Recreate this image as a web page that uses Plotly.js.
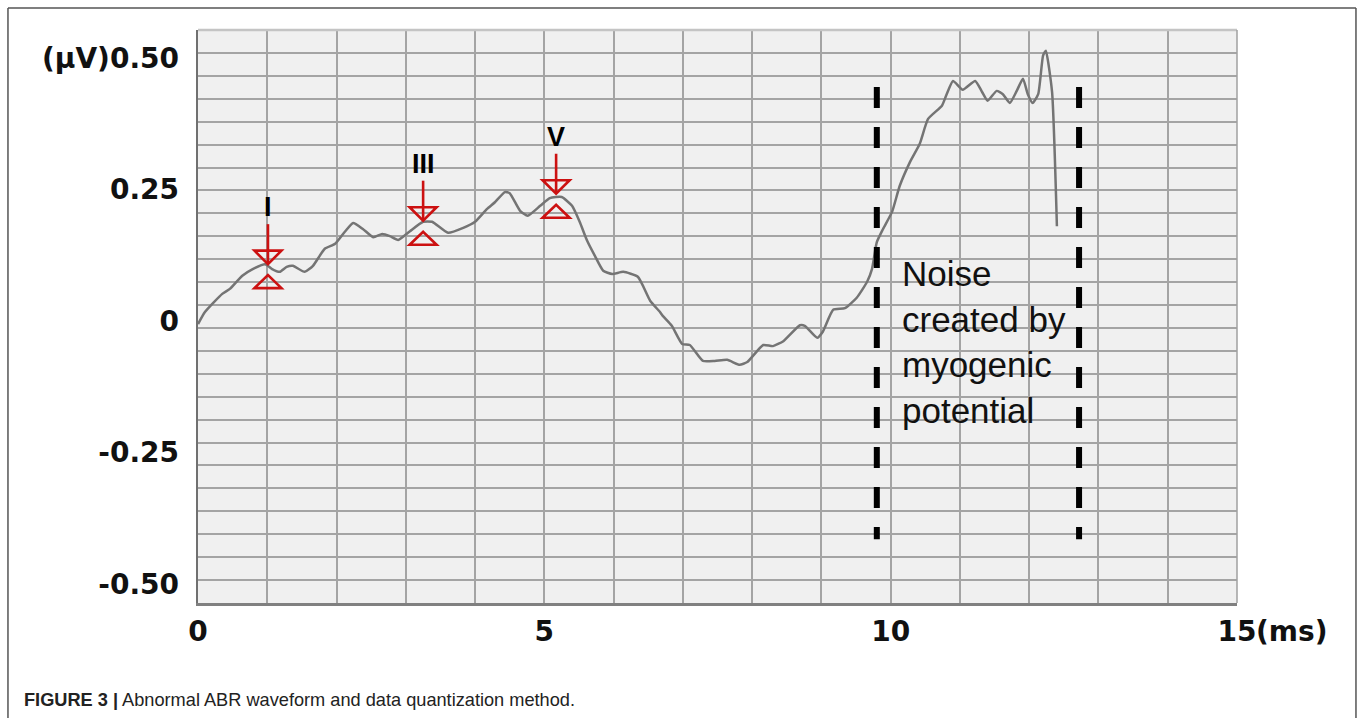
<!DOCTYPE html>
<html>
<head>
<meta charset="utf-8">
<script src="https://cdn.plot.ly/plotly-3.0.1.min.js"></script>
<style>
  html, body { margin: 0; padding: 0; background: #ffffff; }
  #chart { width: 1358px; height: 718px; }
</style>
</head>
<body>
<div id="chart"></div>
<script>
// ---- Data ----
const timeMs = [0, 0.10, 0.35, 0.46, 0.64, 0.79, 0.97, 1.07, 1.18, 1.28,
  1.37, 1.54, 1.66, 1.83, 1.98, 2.12, 2.24, 2.38, 2.53, 2.66,
  2.77, 2.89, 3.06, 3.25, 3.38, 3.61, 3.83, 4.00, 4.17, 4.29,
  4.43, 4.50, 4.65, 4.76, 4.94, 5.08, 5.25, 5.40, 5.51, 5.62,
  5.73, 5.85, 5.98, 6.14, 6.35, 6.53, 6.67, 6.71, 6.84, 6.99,
  7.10, 7.29, 7.46, 7.64, 7.82, 7.93, 8.16, 8.30, 8.45, 8.69,
  8.76, 8.94, 9.02, 9.17, 9.34, 9.51, 9.66, 9.73, 9.80, 9.89,
  10.02, 10.13, 10.28, 10.42, 10.54, 10.74, 10.80, 10.90, 11.04, 11.22,
  11.32, 11.40, 11.53, 11.62, 11.72, 11.82, 11.91, 11.98, 12.05, 12.13,
  12.20, 12.24, 12.33, 12.40];
const amplitudeUV = [0.007, 0.029, 0.062, 0.071, 0.095, 0.107, 0.116, 0.107, 0.102, 0.111,
  0.113, 0.102, 0.113, 0.144, 0.153, 0.175, 0.191, 0.180, 0.165, 0.171,
  0.167, 0.160, 0.176, 0.193, 0.193, 0.173, 0.182, 0.193, 0.216, 0.229,
  0.247, 0.245, 0.213, 0.204, 0.222, 0.236, 0.238, 0.222, 0.193, 0.158,
  0.131, 0.104, 0.098, 0.102, 0.093, 0.049, 0.029, 0.022, 0.004, -0.029,
  -0.031, -0.060, -0.060, -0.058, -0.067, -0.062, -0.031, -0.033, -0.024, 0.005,
  0.004, -0.018, -0.007, 0.033, 0.036, 0.055, 0.084, 0.107, 0.156, 0.180,
  0.211, 0.258, 0.302, 0.335, 0.380, 0.404, 0.422, 0.449, 0.433, 0.449,
  0.429, 0.413, 0.431, 0.425, 0.409, 0.431, 0.453, 0.425, 0.409, 0.425,
  0.495, 0.504, 0.429, 0.185];

const peakNames = ['I', 'III', 'V'];
const peakTimes = [1.01, 3.25, 5.17];
const peakValues = [0.116, 0.195, 0.244];

const noiseBounds = [9.80, 12.72];      // ms, dashed boundaries
const noiseSpan = [0.438, -0.384];      // µV, vertical extent of the dashed lines
const noiseText = 'Noise<br>created by<br>myogenic<br>potential';
const noiseTextPos = [10.13, -0.026];

const xTickVals = [0, 5, 10, 15];
const xTickText = ['0', '5', '10', '15'];
const xUnit = '(ms)';
const yTickVals = [0.5, 0.25, 0, -0.25, -0.5];
const yTickText = ['(\u03bcV)0.50', '0.25', '0', '-0.25', '-0.50'];
const caption = '<b>FIGURE 3 |</b> Abnormal ABR waveform and data quantization method.';

// ---- Styling ----
const RED = '#cc1111';
const GRID = '#a4a4a4';
const tickFont = { family: 'DejaVu Sans, Liberation Sans, sans-serif', size: 28, color: '#111111', weight: 'bold' };

const traces = [
  {
    x: timeMs, y: amplitudeUV, type: 'scatter', mode: 'lines',
    line: { color: '#747474', width: 2.5, shape: 'spline', smoothing: 0.5 },
    hoverinfo: 'skip', showlegend: false
  },
  {
    x: [], y: [], xaxis: 'x2', yaxis: 'y2', type: 'scatter', mode: 'lines',
    hoverinfo: 'skip', showlegend: false
  }
];
noiseBounds.forEach(function (b) {
  traces.push({
    x: [b, b], y: noiseSpan, type: 'scatter', mode: 'lines',
    line: { color: '#000000', width: 6, dash: '21px,19px' },
    hoverinfo: 'skip', showlegend: false
  });
});

const shapes = [];
// plot frame: top and right edges
shapes.push({ type: 'line', xref: 'paper', yref: 'paper', x0: 0, x1: 1, y0: 1, y1: 1,
  line: { color: '#c4c4c4', width: 2.5 }, layer: 'above' });
shapes.push({ type: 'line', xref: 'paper', yref: 'paper', x0: 1, x1: 1, y0: 0, y1: 1,
  line: { color: '#a0a0a0', width: 1.5 }, layer: 'above' });
// outer figure frame
const fl = -0.1829, fr = 1.1145, ft = 1.0384, fb = -0.2007;
shapes.push({ type: 'line', xref: 'paper', yref: 'paper', x0: fl, x1: fl, y0: fb, y1: ft, line: { color: '#555555', width: 1.5 } });
shapes.push({ type: 'line', xref: 'paper', yref: 'paper', x0: fl, x1: fr, y0: ft, y1: ft, line: { color: '#555555', width: 1.5 } });
shapes.push({ type: 'line', xref: 'paper', yref: 'paper', x0: fr, x1: fr, y0: fb, y1: ft, line: { color: '#555555', width: 1.5 } });

// peak markers: arrow + open down-triangle + open up-triangle, sized in pixels
const annotations = [];
peakNames.forEach(function (name, i) {
  const base = { type: 'path', xref: 'x', yref: 'y', xsizemode: 'pixel', ysizemode: 'pixel',
    xanchor: peakTimes[i], yanchor: peakValues[i], line: { color: RED, width: 2.6 }, layer: 'above' };
  shapes.push(Object.assign({}, base, { path: 'M 0 40 L 0 1' }));
  shapes.push(Object.assign({}, base, { path: 'M -13.5 13.5 L 13.5 13.5 L 0 0 Z' }));
  shapes.push(Object.assign({}, base, { path: 'M -13.5 -24 L 13.5 -24 L 0 -11 Z' }));
  annotations.push({ x: peakTimes[i], y: peakValues[i], xref: 'x', yref: 'y', text: name,
    showarrow: false, yshift: 57, xanchor: 'center', yanchor: 'middle',
    font: { family: 'Liberation Sans, Arial, sans-serif', size: 27, color: '#000000', weight: 'bold' } });
});

annotations.push({ x: noiseTextPos[0], y: noiseTextPos[1], xref: 'x', yref: 'y', text: noiseText,
  showarrow: false, xanchor: 'left', yanchor: 'middle', align: 'left',
  font: { family: 'Liberation Sans, Arial, sans-serif', size: 35, color: '#111111' } });

annotations.push({ x: 15, y: -0.0506, xref: 'x', yref: 'paper', text: xUnit, showarrow: false,
  xanchor: 'left', yanchor: 'middle', xshift: 17, font: tickFont });

annotations.push({ x: -0.1694, y: -0.1693, xref: 'paper', yref: 'paper', text: caption,
  showarrow: false, xanchor: 'left', yanchor: 'middle', align: 'left',
  font: { family: 'Liberation Sans, Arial, sans-serif', size: 18.2, color: '#222222' } });

const layout = {
  width: 1358, height: 718,
  margin: { l: 198, r: 121, t: 30, b: 115, pad: 0 },
  paper_bgcolor: '#ffffff', plot_bgcolor: '#f0f0f0',
  showlegend: false,
  xaxis: {
    range: [0, 15], dtick: 1, tick0: 0,
    showgrid: true, gridcolor: GRID, gridwidth: 2,
    zeroline: false, ticks: '', showticklabels: false,
    showline: true, linecolor: '#808080', linewidth: 2.5
  },
  xaxis2: {
    overlaying: 'x', anchor: 'y2', side: 'bottom', range: [0, 15],
    tickmode: 'array', tickvals: xTickVals, ticktext: xTickText,
    showgrid: false, zeroline: false, showline: false, ticks: '',
    ticklabelstandoff: 9, tickfont: tickFont
  },
  yaxis: {
    range: [-0.5, 0.25 / 6 * 13], dtick: 0.25 / 6, tick0: 0,
    showgrid: true, gridcolor: GRID, gridwidth: 2,
    zeroline: false, showticklabels: false, ticks: '',
    showline: true, linecolor: '#707070', linewidth: 2
  },
  yaxis2: {
    overlaying: 'y', anchor: 'x2', side: 'left', range: [-0.5366, 0.5538],
    tickmode: 'array', tickvals: yTickVals, ticktext: yTickText,
    showgrid: false, zeroline: false, showline: false, ticks: '',
    ticklabelstandoff: 18, tickfont: tickFont
  },
  shapes: shapes,
  annotations: annotations
};

Plotly.newPlot('chart', traces, layout, { displayModeBar: false, staticPlot: true });
</script>
</body>
</html>
